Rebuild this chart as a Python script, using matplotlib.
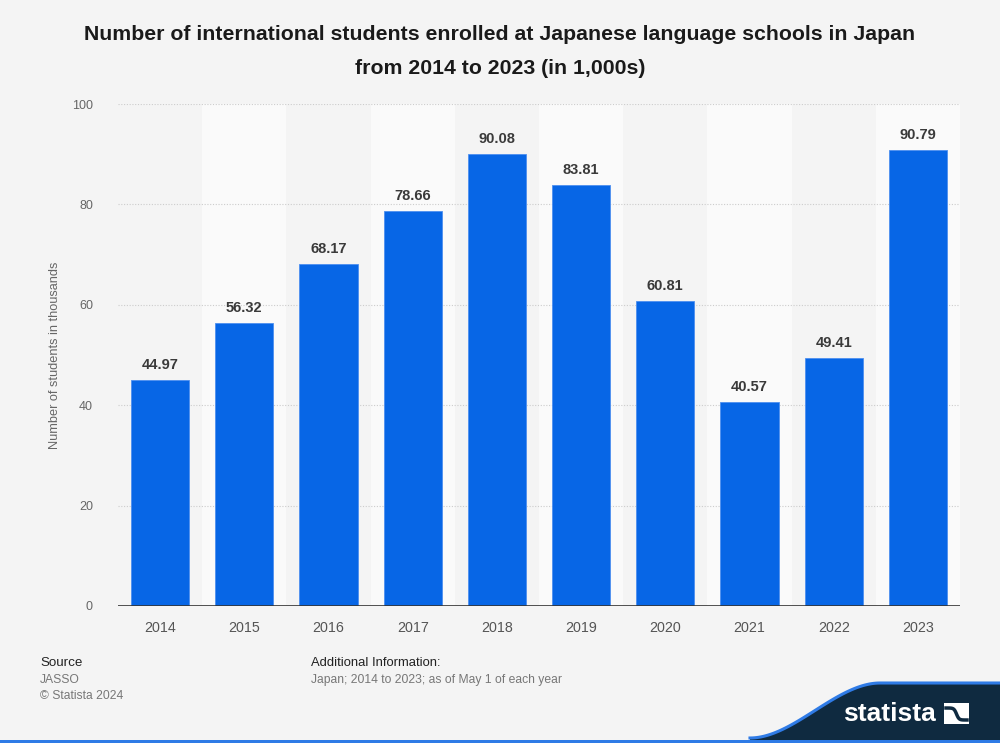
"""Japanese language school enrolment chart."""

import matplotlib
matplotlib.use("Agg")
import matplotlib.pyplot as plt
from matplotlib.patches import Polygon, Rectangle
import numpy as np

years = ["2014", "2015", "2016", "2017", "2018", "2019", "2020", "2021", "2022", "2023"]
students = [44.97, 56.32, 68.17, 78.66, 90.08, 83.81, 60.81, 40.57, 49.41, 90.79]
y_ticks = [0, 20, 40, 60, 80, 100]

BG = "#f4f4f4"
BAR = "#0766e6"

plt.rcParams["font.family"] = ["Liberation Sans", "DejaVu Sans"]

fig = plt.figure(figsize=(10, 7.43), dpi=100, facecolor=BG)
ax = fig.add_axes([0.118, 0.1844, 0.842, 0.6756])
ax.set_facecolor(BG)

x = np.arange(len(years))

# alternating column bands
for i in x:
    if i % 2 == 1:
        ax.axvspan(i - 0.5, i + 0.5, color="#fafafa", zorder=0, lw=0)

for t in y_ticks[1:]:
    ax.axhline(t, color="#cccccc", lw=0.8, ls=(0, (1, 1.5)), zorder=1)
ax.axhline(0, color="#333333", lw=1.2, zorder=3)

bars = ax.bar(x, students, width=0.69, color=BAR, edgecolor="#4d8ff0",
              linewidth=0.6, zorder=2)
for xi, v in zip(x, students):
    ax.text(xi, v + 1.6, f"{v:.2f}", ha="center", va="bottom",
            fontsize=10.5, fontweight="bold", color="#3a3a3a", zorder=4)

ax.set_xlim(-0.5, len(years) - 0.5)
ax.set_ylim(0, 100)
ax.set_xticks(x)
ax.set_xticklabels(years, fontsize=10.3, color="#555555")
ax.set_yticks(y_ticks)
ax.set_yticklabels([str(t) for t in y_ticks], fontsize=9, color="#666666")
ax.tick_params(axis="both", length=0)
ax.tick_params(axis="x", pad=11)
ax.tick_params(axis="y", pad=18)
for s in ax.spines.values():
    s.set_visible(False)
ax.set_ylabel("Number of students in thousands", fontsize=9.2, color="#666666",
              labelpad=8)

fig.text(0.5, 1 - 35 / 743, "Number of international students enrolled at Japanese language schools in Japan",
         ha="center", va="center", fontsize=15.3, fontweight="bold", color="#1a1a1a")
fig.text(0.5, 1 - 68 / 743, "from 2014 to 2023 (in 1,000s)",
         ha="center", va="center", fontsize=15.3, fontweight="bold", color="#1a1a1a")

# footer
fig.text(0.04, 1 - 663 / 743, "Source", fontsize=9.6, color="#222222", va="center")
fig.text(0.04, 1 - 680 / 743, "JASSO", fontsize=8.7, color="#777777", va="center")
fig.text(0.04, 1 - 696 / 743, "© Statista 2024", fontsize=8.7, color="#777777", va="center")
fig.text(0.311, 1 - 663 / 743, "Additional Information:", fontsize=9.4, color="#222222", va="center")
fig.text(0.311, 1 - 680 / 743, "Japan; 2014 to 2023; as of May 1 of each year",
         fontsize=8.7, color="#777777", va="center")

# statista logo block
t = np.linspace(0, 1, 60)
cx = 750 + 130 * t
cy = 738 - 55 * (3 * t ** 2 - 2 * t ** 3)
px = np.concatenate([cx, [1000, 1000]])
py = np.concatenate([cy, [683, 743]])
pts = np.column_stack([px / 1000, 1 - py / 743])
pts = np.vstack([pts, [[0.75, 1 - 743 / 743]]])
fig.patches.append(Polygon(pts, closed=True, transform=fig.transFigure,
                           facecolor="#0f2a40", edgecolor="none", zorder=1))
edge_x = np.concatenate([cx, [1000]]) / 1000
edge_y = 1 - np.concatenate([cy, [683]]) / 743
fig.add_artist(plt.Line2D(edge_x, edge_y, transform=fig.transFigure,
                          color="#2f7be6", lw=2.2, zorder=2))
fig.patches.append(Rectangle((0, 0), 1, 3 / 743, transform=fig.transFigure,
                             facecolor="#2f7be6", edgecolor="none", zorder=2))
fig.text(0.889, 1 - 714 / 743, "statista", fontsize=19, fontweight="bold",
         color="white", ha="center", va="center", zorder=3)
fig.patches.append(Rectangle((0.944, 1 - 724 / 743), 0.025, 21 / 743,
                             transform=fig.transFigure, facecolor="white",
                             edgecolor="none", zorder=3))
sx = np.linspace(0.946, 0.967, 30)
sy = 1 - (714 + 6 * np.tanh((sx - 0.9565) * 400)) / 743
fig.add_artist(plt.Line2D(sx, sy, transform=fig.transFigure,
                          color="#0f2a40", lw=2.5, zorder=4))

fig.savefig("out.png", dpi=100, facecolor=BG)
